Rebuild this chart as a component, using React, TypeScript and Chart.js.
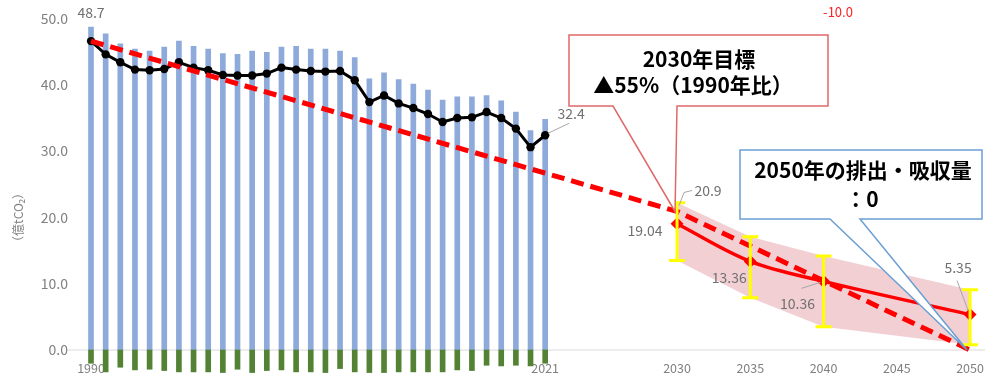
import { useEffect, useRef } from 'react';
import { Chart, registerables } from 'chart.js';

Chart.register(...registerables);

const years = [1990, 1991, 1992, 1993, 1994, 1995, 1996, 1997, 1998, 1999, 2000, 2001, 2002, 2003, 2004, 2005, 2006, 2007, 2008, 2009, 2010, 2011, 2012, 2013, 2014, 2015, 2016, 2017, 2018, 2019, 2020, 2021];
const grossEmissions = [48.7, 47.7, 46.2, 45.4, 45.1, 45.7, 46.6, 45.8, 45.4, 44.7, 44.6, 45.1, 44.9, 45.7, 45.8, 45.4, 45.4, 45.1, 44.1, 40.9, 41.8, 40.8, 40.1, 39.2, 37.7, 38.2, 38.2, 38.4, 37.6, 35.9, 33.1, 34.8];
const absorption = [-2.0, -3.3, -2.6, -3.0, -2.9, -3.1, -3.3, -3.3, -3.3, -3.4, -2.9, -3.4, -3.1, -3.0, -3.3, -3.3, -3.4, -2.8, -3.3, -3.4, -3.4, -3.3, -3.3, -3.3, -3.3, -3.0, -3.1, -2.3, -2.4, -2.3, -2.4, -2.0];
const netEmissions = [46.6, 44.6, 43.4, 42.3, 42.2, 42.4, 43.4, 42.6, 42.2, 41.5, 41.4, 41.4, 41.7, 42.6, 42.3, 42.1, 42.0, 42.1, 40.7, 37.4, 38.4, 37.2, 36.5, 35.6, 34.4, 35.0, 35.1, 35.9, 35.0, 33.4, 30.6, 32.4];

const targetYears = [1990, 2030, 2050];
const targetValues = [46.6, 20.9, 0];

const projYears = [2030, 2035, 2040, 2050];
const projValues = [19.04, 13.36, 10.36, 5.35];
const projHigh = [22.2, 17.1, 14.2, 9.1];
const projLow = [13.5, 7.9, 3.5, 0.8];

const xTickYears = [1990, 2021, 2030, 2035, 2040, 2045, 2050];
const yTickValues = [0, 10, 20, 30, 40, 50];

const FONT = '"Noto Sans CJK JP", "Noto Sans", sans-serif';
const GRAY = '#808080';

const pts = (xs: number[], ys: number[]) => xs.map((x, i) => ({ x, y: ys[i] }));

const overlay = {
  id: 'overlay',
  beforeDatasetsDraw(chart: any) {
    const { ctx, chartArea } = chart;
    const xs = chart.scales.x;
    const y0 = chart.scales.y.getPixelForValue(0);
    ctx.save();
    ctx.strokeStyle = '#d9d9d9';
    ctx.lineWidth = 1.2;
    ctx.beginPath();
    ctx.moveTo(chartArea.left, y0);
    ctx.lineTo(chartArea.right, y0);
    ctx.stroke();
    // x tick labels (drawn beneath the bars)
    ctx.font = `12.5px ${FONT}`;
    ctx.fillStyle = GRAY;
    ctx.textAlign = 'center';
    ctx.textBaseline = 'middle';
    xTickYears.forEach((yr) => ctx.fillText(String(yr), xs.getPixelForValue(yr), 368));
    ctx.restore();
  },
  afterDatasetsDraw(chart: any) {
    const { ctx } = chart;
    const xs = chart.scales.x;
    const ys = chart.scales.y;
    ctx.save();
    ctx.strokeStyle = '#ffff00';
    ctx.lineWidth = 3;
    projYears.forEach((yr, i) => {
      const x = xs.getPixelForValue(yr);
      const t = ys.getPixelForValue(projHigh[i]);
      const b = ys.getPixelForValue(projLow[i]);
      ctx.beginPath();
      ctx.moveTo(x, t); ctx.lineTo(x, b);
      ctx.moveTo(x - 8, t); ctx.lineTo(x + 8, t);
      ctx.moveTo(x - 8, b); ctx.lineTo(x + 8, b);
      ctx.stroke();
    });
    ctx.restore();
  },
  afterDraw(chart: any) {
    const { ctx } = chart;
    const xs = chart.scales.x;
    const ys = chart.scales.y;
    const X = (v: number) => xs.getPixelForValue(v);
    const Y = (v: number) => ys.getPixelForValue(v);
    ctx.save();

    // y tick labels
    ctx.font = `14px ${FONT}`;
    ctx.fillStyle = GRAY;
    ctx.textAlign = 'right';
    ctx.textBaseline = 'middle';
    yTickValues.forEach((v) => ctx.fillText(v.toFixed(1), 68, Y(v)));

    // y title
    ctx.save();
    ctx.translate(18, Y(20));
    ctx.rotate(-Math.PI / 2);
    ctx.textAlign = 'center';
    ctx.font = `12px ${FONT}`;
    ctx.fillText('（億tCO₂）', 0, 0);
    ctx.restore();

    // stray label at top right
    ctx.textAlign = 'center';
    ctx.fillStyle = '#ff2020';
    ctx.font = `13px ${FONT}`;
    ctx.fillText('-10.0', 838, 12);

    // red callout
    const tip1x = X(targetYears[1]) - 2;
    const tip1y = Y(targetValues[1]);
    ctx.beginPath();
    ctx.moveTo(569, 35); ctx.lineTo(828, 35); ctx.lineTo(828, 106); ctx.lineTo(677, 106);
    ctx.lineTo(tip1x, tip1y); ctx.lineTo(613, 106); ctx.lineTo(569, 106); ctx.closePath();
    ctx.fillStyle = '#ffffff';
    ctx.fill();
    ctx.strokeStyle = '#e06868';
    ctx.lineWidth = 1.5;
    ctx.stroke();
    ctx.fillStyle = '#000000';
    ctx.font = `bold 21px ${FONT}`;
    ctx.fillText('2030年目標', 699, 59);
    ctx.fillText('▲55%（1990年比）', 693, 85);

    // blue callout
    const tip2x = X(targetYears[2]) - 3;
    const tip2y = Y(targetValues[2]);
    ctx.beginPath();
    ctx.moveTo(740, 150); ctx.lineTo(982, 150); ctx.lineTo(982, 219); ctx.lineTo(860, 219);
    ctx.lineTo(tip2x, tip2y); ctx.lineTo(830, 219); ctx.lineTo(740, 219); ctx.closePath();
    ctx.fillStyle = '#ffffff';
    ctx.fill();
    ctx.strokeStyle = '#6a9fd4';
    ctx.lineWidth = 1.5;
    ctx.stroke();
    ctx.fillStyle = '#000000';
    ctx.font = `bold 21px ${FONT}`;
    ctx.fillText('2050年の排出・吸収量', 863, 170);
    ctx.fillText('：0', 862, 199);

    // data labels
    const labels = [
      { x: years[0], v: grossEmissions[0], dx: 0, dy: -14, leader: null as null | number[] },
      { x: years[years.length - 1], v: netEmissions[netEmissions.length - 1], dx: 26, dy: -22, leader: [3, -2, 24, -12] },
      { x: targetYears[1], v: targetValues[1], dx: 31, dy: -21, leader: [2, -6, 7, -19, 15, -21] },
      { x: projYears[0], v: projValues[0], dx: -32, dy: 7, leader: null },
      { x: projYears[1], v: projValues[1], dx: -21, dy: 16, leader: null },
      { x: projYears[2], v: projValues[2], dx: -26, dy: 22, leader: [-3, 1, -22, 7] },
      { x: projYears[3], v: projValues[3], dx: -12, dy: -47, leader: [-2, -4, -13, -34] },
    ];
    labels.forEach((l) => {
      const px = X(l.x);
      const py = Y(l.v);
      if (l.leader) {
        ctx.strokeStyle = '#a6a6a6';
        ctx.lineWidth = 1;
        ctx.beginPath();
        ctx.moveTo(px + l.leader[0], py + l.leader[1]);
        for (let k = 2; k < l.leader.length; k += 2) ctx.lineTo(px + l.leader[k], py + l.leader[k + 1]);
        ctx.stroke();
      }
      ctx.fillStyle = '#707070';
      ctx.font = `14px ${FONT}`;
      ctx.textAlign = 'center';
      ctx.fillText(String(l.v), px + l.dx, py + l.dy);
    });

    ctx.restore();
  },
};

export default function App() {
  const ref = useRef<HTMLCanvasElement | null>(null);
  useEffect(() => {
    if (!ref.current) return;
    const chart = new Chart(ref.current, {
      type: 'bar',
      data: {
        datasets: [
          {
            type: 'line', label: 'projection', data: pts(projYears, projValues),
            borderColor: '#ff0000', backgroundColor: '#ff0000', borderWidth: 3.5,
            pointStyle: 'rectRot', pointRadius: 4, tension: 0.35, fill: false, order: 2,
          } as any,
          {
            type: 'line', label: 'target', data: pts(targetYears, targetValues),
            borderColor: '#ff0000', borderWidth: 5, borderDash: [13, 7], pointRadius: 0,
            tension: 0, fill: false, order: 4,
          } as any,
          {
            type: 'line', label: 'net', data: pts(years, netEmissions),
            borderColor: '#000000', backgroundColor: '#000000', borderWidth: 3,
            pointRadius: 4.2, pointBorderWidth: 0, tension: 0, fill: false, order: 5,
          } as any,
          {
            type: 'line', label: 'high', data: pts(projYears, projHigh),
            borderWidth: 0, pointRadius: 0, fill: '+1', backgroundColor: 'rgba(228, 160, 168, 0.5)',
            tension: 0, order: 8,
          } as any,
          {
            type: 'line', label: 'low', data: pts(projYears, projLow),
            borderWidth: 0, pointRadius: 0, fill: false, tension: 0, order: 8,
          } as any,
          {
            type: 'bar', label: 'absorption', data: pts(years, absorption),
            backgroundColor: '#548235', barThickness: 5, grouped: false, order: 9,
          } as any,
          {
            type: 'bar', label: 'gross', data: pts(years, grossEmissions),
            backgroundColor: '#8eaadb', barThickness: 5, grouped: false, order: 10,
          } as any,
        ],
      },
      options: {
        animation: false,
        responsive: false,
        devicePixelRatio: 1,
        layout: { autoPadding: false, padding: { left: 68, top: 0, right: 0, bottom: 0 } },
        plugins: { legend: { display: false }, tooltip: { enabled: false } },
        scales: {
          x: { type: 'linear', min: 1988.43, max: 2051.02, offset: false, display: false },
          y: { type: 'linear', min: -3.92, max: 52.8, display: false },
        },
      } as any,
      plugins: [overlay],
    });
    return () => chart.destroy();
  }, []);
  return (
    <div style={{ position: 'absolute', left: 0, top: 0, width: 985, height: 376, background: '#ffffff' }}>
      <canvas ref={ref} width={985} height={376} style={{ display: 'block' }} />
    </div>
  );
}
